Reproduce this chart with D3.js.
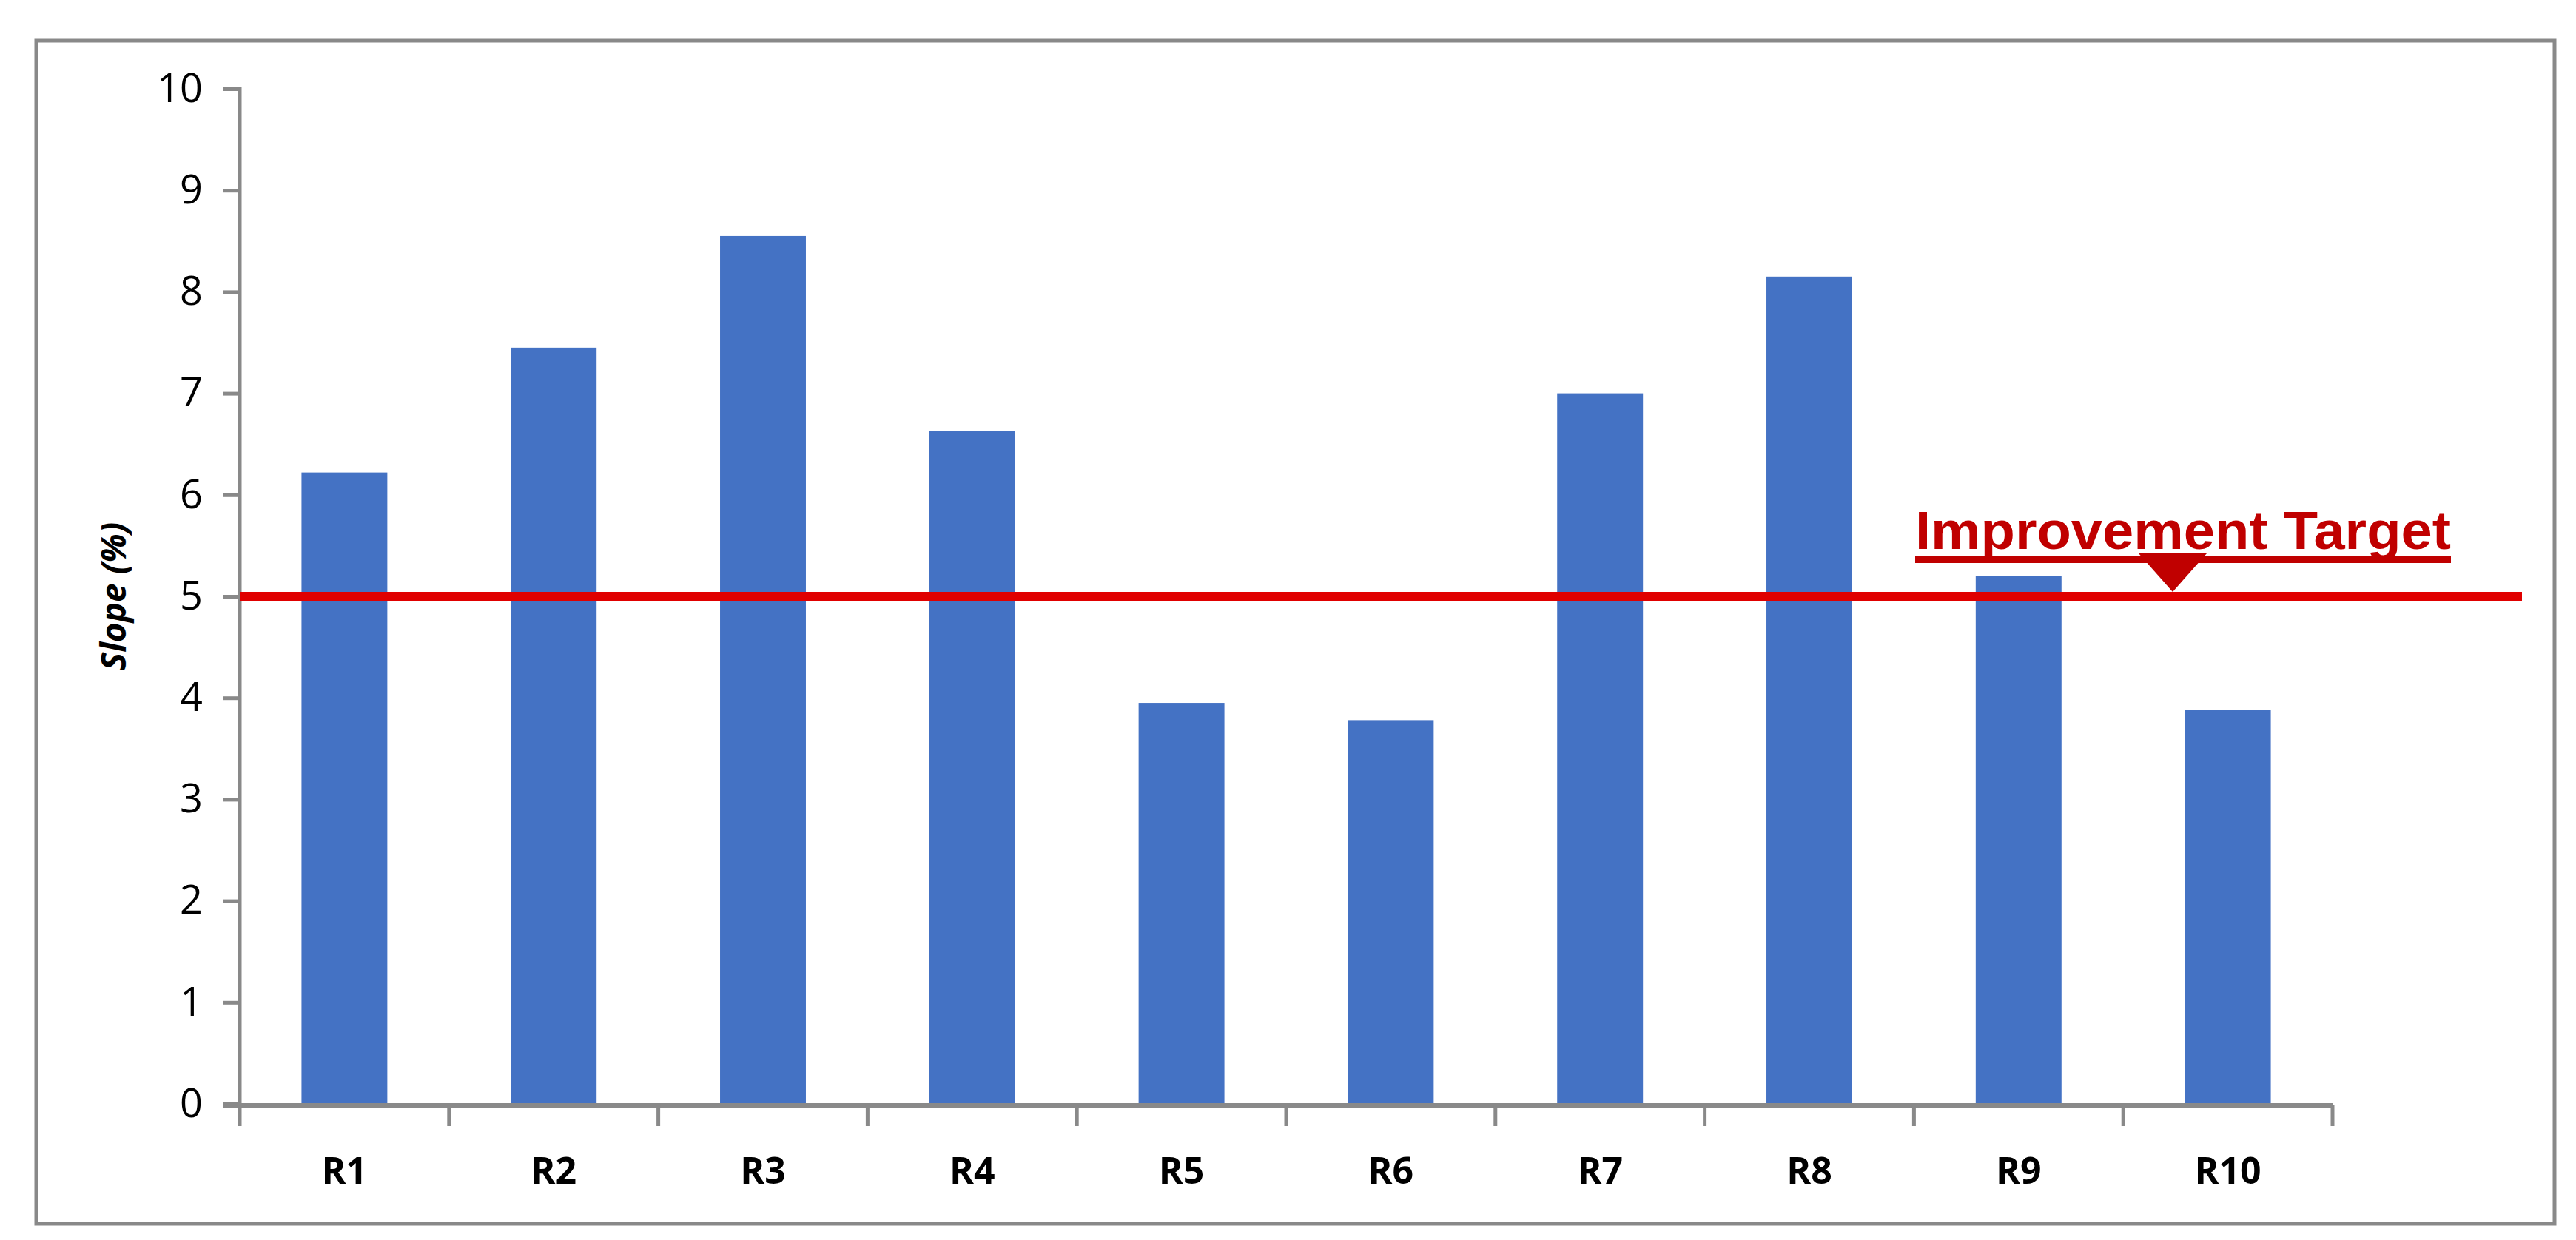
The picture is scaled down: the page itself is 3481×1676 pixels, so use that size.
<!DOCTYPE html>
<html><head><meta charset="utf-8">
<script src="https://cdn.jsdelivr.net/npm/d3@7"></script>
<style>body{margin:0;background:#fff}</style></head>
<body><svg id="c" width="3481" height="1676"></svg>
<script>
const categories = ["R1","R2","R3","R4","R5","R6","R7","R8","R9","R10"];
const slopeValues = [6.22,7.45,8.55,6.63,3.95,3.78,7.0,8.15,5.2,3.88];
const yTicks = [0,1,2,3,4,5,6,7,8,9,10];
const targetValue = 5;
const targetLabel = "Improvement Target";

const svg = d3.select("#c");
svg.append("rect").attr("x",49).attr("y",55).attr("width",3403).attr("height",1599)
  .attr("fill","#fff").attr("stroke","#898989").attr("stroke-width",5);

const x = d3.scaleBand().domain(categories).range([324,3152]).paddingInner(0.59).paddingOuter(0.295);
const y = d3.scaleLinear().domain([0,10]).range([1492,120]);

const gy = svg.append("g").attr("transform","translate(324,0)")
  .call(d3.axisLeft(y).tickValues(yTicks).tickSize(22).tickPadding(28));
gy.select(".domain").attr("d","M-22,120H0V1492H-22").attr("stroke","#898989").attr("stroke-width",5).attr("fill","none");
gy.selectAll(".tick line").attr("stroke","#898989").attr("stroke-width",5);
gy.selectAll(".tick text").attr("font-family","Open Sans, sans-serif").attr("font-size",54).attr("fill","#000");

svg.selectAll("rect.bar").data(slopeValues).join("rect").attr("class","bar")
  .attr("x",(d,i)=>x(categories[i])).attr("width",x.bandwidth())
  .attr("y",d=>y(d)).attr("height",d=>y(0)-y(d)).attr("fill","#4472C4");

// x axis
const step = x.step();
const gx = svg.append("g");
gx.append("line").attr("x1",302).attr("x2",3152).attr("y1",1494).attr("y2",1494)
  .attr("stroke","#898989").attr("stroke-width",6);
gx.selectAll("line.t").data(d3.range(categories.length+1)).join("line").attr("class","t")
  .attr("x1",i=>324+i*step).attr("x2",i=>324+i*step).attr("y1",1494).attr("y2",1522)
  .attr("stroke","#898989").attr("stroke-width",5);
gx.selectAll("text").data(categories).join("text")
  .attr("x",d=>x(d)+x.bandwidth()/2).attr("y",1600).attr("text-anchor","middle")
  .attr("font-family","Open Sans, sans-serif").attr("font-weight","bold").attr("font-size",50)
  .text(d=>d);

svg.append("text").attr("transform","translate(170,"+y(5)+") rotate(-90)")
  .attr("text-anchor","middle").attr("font-family","Open Sans, sans-serif")
  .attr("font-weight","bold").attr("font-style","italic").attr("font-size",46).text("Slope (%)");

// target
const ty = y(targetValue);
svg.append("line").attr("x1",324).attr("x2",3408).attr("y1",ty).attr("y2",ty)
  .attr("stroke","#E00000").attr("stroke-width",12);
svg.append("text").attr("x",2588).attr("y",742).attr("font-family","Liberation Sans Narrow, Arial Narrow, sans-serif")
  .attr("font-weight","bold").attr("font-size",72).attr("fill","#C00000")
  .attr("textLength",724).attr("lengthAdjust","spacingAndGlyphs").text(targetLabel);
svg.append("rect").attr("x",2588).attr("y",752).attr("width",724).attr("height",9).attr("fill","#C00000");
const tx = 2936;
svg.append("path").attr("d",`M${tx-46},${748}L${tx+46},${748}L${tx},${ty-6}Z`).attr("fill","#C00000");
</script></body></html>
